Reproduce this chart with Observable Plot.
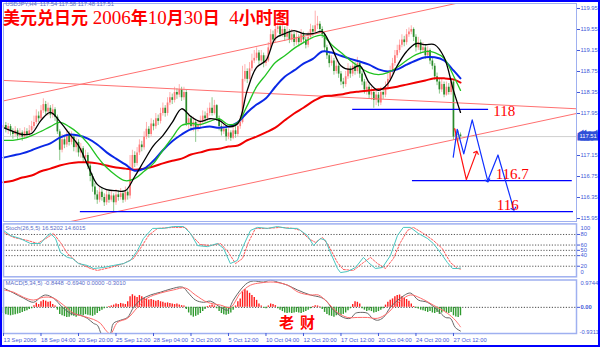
<!DOCTYPE html>
<html><head><meta charset="utf-8">
<script src="https://cdn.jsdelivr.net/npm/d3@7"></script>
<script src="https://cdn.jsdelivr.net/npm/@observablehq/plot@0.6"></script>
<style>
body{margin:0;background:#fff;}
#c{position:relative;width:600px;height:347px;overflow:hidden;background:#fff;}
#c svg{position:absolute;left:0;top:0;}
#border{position:absolute;left:0;top:0;width:600px;height:347px;box-sizing:border-box;border:2px solid #0000ff;pointer-events:none;}
#title{position:absolute;left:3px;top:8.5px;white-space:nowrap;color:#ff0000;font-weight:700;line-height:15px;}
#title .h{font-family:"Noto Sans CJK SC",sans-serif;font-size:17px;}
#title .d{font-family:"Liberation Serif",serif;font-size:19px;font-weight:400;}
#sig{position:absolute;left:279px;top:313px;white-space:nowrap;color:#ff0000;font-family:"Noto Sans CJK SC",sans-serif;font-size:15px;line-height:18px;font-weight:700;letter-spacing:6px;}
</style></head><body><div id="c"></div>
<script>
// ---------- data ----------
const firstOpen = 117.68;
const closes = [
117.72,117.65,117.70,117.60,117.55,117.62,117.52,117.58,117.50,117.60,
117.55,117.62,117.70,117.78,117.90,117.85,118.00,118.12,117.98,118.05,
117.92,118.02,117.88,117.60,117.25,117.45,117.35,117.55,117.40,117.50,
117.30,117.40,117.20,117.28,117.10,117.15,116.95,116.75,116.55,116.40,
116.30,116.45,116.35,116.25,116.40,116.30,116.38,116.25,116.40,116.35,
116.42,116.30,116.45,116.38,116.90,117.15,117.00,117.20,117.35,117.30,
117.50,117.65,117.55,117.75,117.70,117.85,117.80,117.95,118.05,117.95,
118.15,118.25,118.20,118.35,118.30,118.40,118.25,118.35,117.75,117.85,
117.70,117.78,117.65,117.72,117.80,117.90,117.85,117.95,118.05,117.95,
118.10,117.85,117.70,117.60,117.65,117.50,117.58,117.48,117.62,117.55,
117.70,117.78,118.60,118.75,118.60,118.80,118.95,119.00,119.10,118.95,
119.05,118.90,118.95,119.20,119.45,119.35,119.55,119.60,119.45,119.55,
119.40,119.50,119.35,119.45,119.30,119.40,119.30,119.45,119.35,119.25,
119.40,119.55,119.50,119.62,119.65,119.55,119.45,119.20,119.05,118.90,
118.95,118.75,118.85,118.70,118.55,118.50,118.65,118.80,118.70,118.85,
118.75,118.90,118.70,118.55,118.40,118.45,118.30,118.35,118.20,118.30,
118.15,118.35,118.30,118.45,118.60,118.75,118.90,119.05,119.15,119.25,
119.35,119.30,119.45,119.50,119.55,119.40,119.20,119.30,119.15,119.20,
119.05,119.15,118.95,118.85,118.65,118.55,118.40,118.50,118.30,118.45,
118.35,118.55,117.50,117.55,117.54,117.51];
const highs = [
117.80,117.78,117.76,117.74,117.66,117.70,117.66,117.66,117.62,117.68,
117.66,117.72,117.80,117.90,118.02,117.98,118.10,118.23,118.18,118.15,
118.10,118.12,118.06,117.92,117.64,117.55,117.52,117.65,117.60,117.60,
117.55,117.48,117.45,117.38,117.32,117.25,117.20,117.00,116.80,116.62,
116.48,116.55,116.52,116.42,116.50,116.46,116.48,116.42,116.50,116.48,
116.52,116.48,116.55,116.50,117.15,117.25,117.22,117.30,117.45,117.42,
117.60,117.78,117.70,117.85,117.82,117.95,117.92,118.05,118.15,118.10,
118.25,118.35,118.32,118.45,118.42,118.50,118.45,118.45,118.40,117.95,
117.90,117.88,117.82,117.82,117.90,118.00,117.98,118.05,118.15,118.25,
118.20,118.12,117.90,117.75,117.75,117.70,117.66,117.62,117.72,117.70,
117.80,117.90,118.85,118.88,118.80,118.92,119.08,119.15,119.20,119.15,
119.15,119.10,119.05,119.30,119.55,119.52,119.65,119.72,119.65,119.65,
119.60,119.60,119.55,119.55,119.50,119.50,119.45,119.55,119.50,119.40,
119.50,119.65,119.62,119.90,119.80,119.70,119.60,119.50,119.25,119.10,
119.05,119.00,118.95,118.90,118.75,118.62,118.75,118.90,118.85,118.95,
118.92,119.02,118.95,118.75,118.60,118.55,118.50,118.45,118.40,118.40,
118.35,118.45,118.42,118.55,118.70,118.85,119.00,119.15,119.25,119.35,
119.45,119.42,119.55,119.58,119.62,119.58,119.45,119.40,119.35,119.30,
119.25,119.22,119.18,119.00,118.90,118.72,118.60,118.60,118.55,118.55,
118.52,118.62,118.58,117.65,117.62,117.58];
const lows = [
117.60,117.58,117.55,117.52,117.46,117.50,117.45,117.48,117.42,117.46,
117.48,117.50,117.58,117.65,117.74,117.78,117.80,117.95,117.92,117.90,
117.85,117.86,117.80,117.55,117.05,117.20,117.28,117.30,117.33,117.35,
117.22,117.20,117.12,117.10,117.00,117.02,116.88,116.65,116.45,116.30,
116.22,116.25,116.28,116.18,116.20,116.24,116.26,116.08,116.20,116.28,
116.30,116.24,116.26,116.30,116.32,116.85,116.92,116.95,117.15,117.22,
117.25,117.45,117.48,117.50,117.62,117.65,117.72,117.75,117.90,117.88,
117.90,118.10,118.12,118.15,118.22,118.25,118.18,118.20,117.70,117.65,
117.62,117.60,117.40,117.60,117.66,117.75,117.78,117.80,117.90,117.90,
117.92,117.80,117.62,117.52,117.55,117.42,117.45,117.42,117.45,117.48,
117.50,117.65,117.75,118.55,118.52,118.55,118.75,118.90,118.95,118.88,
118.90,118.82,118.85,118.92,119.15,119.28,119.30,119.48,119.40,119.40,
119.32,119.35,119.28,119.30,119.22,119.25,119.22,119.25,119.28,119.18,
119.20,119.35,119.42,119.45,119.55,119.48,119.38,119.12,118.98,118.82,
118.85,118.68,118.70,118.62,118.48,118.42,118.45,118.60,118.62,118.65,
118.68,118.70,118.62,118.48,118.32,118.30,118.22,118.20,118.05,118.10,
118.08,118.10,118.22,118.25,118.40,118.55,118.70,118.85,119.00,119.10,
119.20,119.22,119.25,119.40,119.45,119.32,119.12,119.15,119.08,119.10,
118.98,119.00,118.88,118.78,118.58,118.48,118.32,118.35,118.25,118.28,
118.30,118.30,117.44,117.45,117.42,117.48];

// moving averages at these bar indices
const maIdx = [0,4,8,12,16,20,24,28,32,36,40,44,48,52,56,60,64,68,72,76,80,84,88,92,96,100,104,108,112,116,120,124,128,132,136,140,144,148,152,156,160,164,168,172,176,180,184,188,192,195];
const maBlack = [117.68,117.61,117.55,117.57,117.82,117.97,117.80,117.57,117.34,116.96,116.60,116.50,116.48,116.48,116.75,117.05,117.34,117.53,117.78,118.04,117.89,117.80,117.85,117.82,117.70,117.76,118.39,118.83,118.96,119.38,119.47,119.53,119.47,119.47,119.51,119.21,118.86,118.79,118.86,118.54,118.39,118.52,118.86,119.13,119.28,119.26,119.26,119.02,118.39,117.97];
const maGreen = [117.44,117.44,117.47,117.53,117.61,117.70,117.78,117.70,117.57,117.38,117.13,116.92,116.77,116.67,116.71,116.85,117.00,117.25,117.49,117.72,117.76,117.74,117.80,117.85,117.74,117.78,118.10,118.46,118.69,118.92,119.05,119.19,119.30,119.40,119.44,119.26,119.11,118.96,118.83,118.73,118.69,118.73,118.83,118.96,119.07,119.13,119.11,119.00,118.67,118.39];
const maBlue = [117.11,117.15,117.19,117.25,117.32,117.38,117.49,117.55,117.53,117.47,117.36,117.21,117.09,116.98,116.86,116.90,117.05,117.25,117.42,117.55,117.65,117.68,117.70,117.68,117.70,117.78,117.97,118.12,118.24,118.46,118.65,118.77,118.90,118.99,119.13,119.11,119.05,118.99,118.94,118.88,118.79,118.75,118.79,118.88,118.96,119.02,119.02,118.96,118.77,118.62];
const maRed = [116.64,116.67,116.73,116.77,116.85,116.90,116.96,117.00,117.02,117.02,117.00,116.96,116.92,116.90,116.88,116.90,116.94,117.00,117.05,117.09,117.17,117.21,117.26,117.28,117.32,117.34,117.44,117.51,117.59,117.68,117.82,117.95,118.06,118.18,118.27,118.29,118.31,118.35,118.37,118.39,118.41,118.43,118.46,118.50,118.54,118.58,118.62,118.62,118.60,118.54];

// hand-drawn lines: [bar index, price]
const channelUpper = [[0,118.19],[244.5,120.54]];
const channelLower = [[28.9,115.895],[244.5,117.95]];
const fallingLine = [[0,118.58],[244.5,118.04]];
const supportPrice = [118.03, 116.67, 116.08];
const supportFrom = [149, 174.5, 32.8];
const supportTo = [207, 242.7, 243.2];
const levelText = ["118", "116.7", "116"];
const levelIdx = [209, 210, 210.5];
const levelPrice = [118.0, 116.79, 116.21];
const blueZigA = [[191.9,117.12],[193.6,117.65],[196.4,117.18],[200.0,117.83],[206.6,116.67]];
const blueZigB = [[206.6,116.67],[211.0,117.16],[217.7,116.13]];
const redZig = [[192.5,117.66],[197.5,116.69],[201.8,117.21]];

// Stochastic(26,5,5)
const stochMain = [[0,87.7],[3,78],[7,72.5],[11.5,63],[15.8,63],[17.9,74],[20,82],[22.2,72.5],[24.3,46],[27.3,36.6],[29.4,34.7],[32,25],[35.8,21.4],[38.4,15.7],[42.7,17.6],[46.9,21.4],[51.2,25],[54.2,31],[57.2,50],[59.7,72.5],[63.6,91.5],[68.3,91.5],[72.5,95],[76.8,95],[79.8,82],[82.8,59],[87,57],[91.3,63],[93.9,53.6],[96.8,25],[99.8,31],[102.4,59],[105.4,87.7],[108.4,93.4],[112.6,91.5],[116.9,95],[121.2,91.5],[125.4,91.5],[126.7,87.7],[129.7,78],[132.3,59],[135.2,72.5],[137.4,69],[139.5,46],[142.5,15.7],[143.8,8],[146.8,10],[150.2,17.6],[153.6,36.6],[155.7,27],[158.7,15.7],[161.7,17.6],[165.1,40],[168.1,78],[170.6,93.4],[173.6,93.4],[177,82],[180.9,72.5],[183.4,63],[186.4,46],[189.4,27],[191.6,15.7],[193.7,15.7],[195,16.52]];
const stochSignal = [[0,84],[4.3,74.4],[10.2,68.8],[14.5,63],[18.8,74.4],[21.3,82],[24.3,65],[27.3,44],[31.6,27],[37.1,15.7],[40.1,12],[45.6,17.6],[51.2,25],[55.5,34.7],[58.4,53.6],[61.9,78],[65.7,91.5],[72.5,93.4],[77.6,93.4],[81.1,74.4],[84,61],[88.3,59],[92.6,63],[96,46],[99,25],[102,34.7],[104.5,65],[107.5,91.5],[112.6,91.5],[118.2,93.4],[123.7,91.5],[126.7,87.7],[130.1,72.5],[133.1,65],[136.1,74.4],[138.7,59],[142.5,27],[145,13.8],[149.3,12],[153.6,27],[156.6,36.6],[159.6,25],[163,15.7],[166.4,34.7],[169.4,65],[172.4,87.7],[174.9,93.4],[179.2,82],[183.4,68.8],[187.2,53.6],[190.7,27],[193.7,15.7],[195,14.60]];
const stochLevels = [80, 60, 50, 40, 20];

// MACD(5,34,5)
const macdMain = [[0,0.69],[4.3,0.51],[8.5,0.33],[12.8,0.18],[15.8,0.36],[17.9,0.44],[21.3,0.33],[25.2,0],[28.6,-0.21],[32.8,-0.28],[35.8,-0.39],[38.4,-0.57],[40.1,-0.64],[41.8,-0.95],[43.9,-1.1],[45.6,-0.95],[46.9,-0.57],[49.9,-0.46],[52.9,-0.36],[55.5,0],[58.4,0.26],[62.7,0.44],[67,0.54],[71.2,0.65],[76.4,0.72],[78.9,0.51],[81.9,0.26],[85.3,0.18],[88.3,0.22],[92.6,0],[95.6,-0.1],[98.1,0.26],[101.1,0.62],[104.1,0.87],[106.7,0.94],[110.9,0.9],[113.9,0.97],[116.9,0.9],[121.2,0.79],[125.4,0.62],[131,0.44],[135.2,0.36],[137.4,0.26],[140.8,-0.1],[145,-0.36],[148,-0.39],[150.2,-0.21],[152.3,-0.18],[155.3,-0.21],[157.4,-0.39],[159.6,-0.46],[162.1,-0.36],[165.1,0],[169.4,0.33],[173.6,0.51],[177,0.26],[180.9,0.18],[185.2,-0.1],[188.6,-0.36],[190.7,-0.39],[192.8,-0.72],[195,-0.8448]];
const macdSignal = [[0,0.62],[4.3,0.54],[8.5,0.36],[12.8,0.26],[17.1,0.36],[21.3,0.33],[25.6,0.08],[29.9,-0.21],[34.1,-0.32],[38.4,-0.43],[41.4,-0.57],[43.5,-0.8],[45.6,-0.95],[48.6,-0.54],[52.9,-0.39],[57.2,0],[61.4,0.33],[67,0.51],[72.5,0.62],[77.6,0.69],[81.9,0.44],[87,0.18],[92.6,0.08],[96.8,0],[101.1,0.51],[105.4,0.79],[109.6,0.87],[115.2,0.9],[121.2,0.79],[125.8,0.54],[131,0.44],[134.4,0.44],[138.2,0.18],[142.5,-0.18],[146.8,-0.36],[151,-0.36],[155.3,-0.36],[159.6,-0.39],[163.8,-0.21],[168.1,0.15],[173.6,0.44],[177.9,0.33],[183.4,0.08],[189.4,-0.21],[192.8,-0.46],[195,-0.694]];
const macdHist = [
-0.22,-0.26,-0.28,-0.30,-0.28,-0.26,-0.24,-0.22,-0.18,-0.15,-0.12,-0.08,-0.05,
0.06,0.15,0.10,0.20,0.25,0.22,0.18,0.20,0.10,0.05,
-0.10,-0.25,-0.30,-0.33,-0.36,-0.35,-0.30,-0.32,-0.35,-0.30,-0.28,-0.30,-0.26,-0.28,-0.30,-0.32,-0.28,-0.22,-0.15,-0.10,
-0.05,-0.02,0.03,0.05,
0.08,0.12,0.10,0.14,0.12,0.10,
0.20,0.38,0.45,0.40,0.35,0.42,0.38,0.32,
0.30,0.26,0.28,0.25,0.22,0.24,0.20,
0.18,0.15,0.16,0.14,0.12,0.10,0.12,
0.08,0.06,0.05,-0.08,
-0.20,-0.30,-0.35,-0.32,-0.28,-0.22,-0.15,-0.08,
0.03,0.06,0.08,0.05,
-0.05,-0.15,-0.22,-0.26,-0.28,-0.25,-0.20,-0.10,
0.05,0.20,0.30,0.55,0.64,0.58,0.50,0.42,0.35,0.25,
0.12,0.05,-0.03,-0.05,
0.05,0.12,0.10,0.06,
-0.05,-0.10,-0.15,-0.20,-0.22,-0.20,-0.22,-0.20,-0.18,-0.20,-0.22,-0.18,-0.15,-0.10,-0.05,
0.03,0.06,0.05,0.02,
-0.08,-0.18,-0.25,-0.30,-0.32,-0.35,-0.30,-0.28,-0.30,-0.25,-0.20,-0.12,-0.05,
0.10,0.20,0.18,0.12,
-0.05,-0.10,-0.15,-0.12,-0.15,-0.20,-0.18,-0.15,-0.10,-0.05,
0.08,0.18,0.25,0.30,0.38,0.42,0.44,0.38,0.32,0.28,0.22,0.12,
0.03,-0.03,-0.06,
-0.10,-0.12,-0.15,-0.18,-0.15,-0.20,-0.22,-0.18,-0.25,-0.20,-0.15,-0.20,-0.22,-0.18,-0.30,-0.34,-0.36,-0.30];

// axis ticks
const priceTicks = [119.95,119.55,119.15,118.75,118.35,117.95,117.15,116.75,116.35,115.95];
const xTickIdx = [0,16,32,48,64,80,96,112,128,144,160,176,192];
const xTickText = ["13 Sep 2006","18 Sep 04:00","20 Sep 20:00","25 Sep 12:00","28 Sep 04:00","2 Oct 20:00","5 Oct 12:00","10 Oct 04:00","12 Oct 20:00","17 Oct 12:00","20 Oct 04:00","24 Oct 20:00","27 Oct 12:00"];
const headerText = "USDJPY,H4  117.54 117.58 117.48 117.51";
const stochText = "Stoch(26,5,5) 16.5202 14.6015";
const macdText = "MACD(5,34,5) -0.8448 -0.6940 0.0000 -0.3010";
const lastClose = closes[closes.length - 1];

// ---------- drawing ----------
const axisColor = "#3f58d8";
const frameColor = "#9fb0f0";
const smallFont = "Liberation Sans, Arial, sans-serif";
const base = {width: 600, height: 347, marginLeft: 3, marginRight: 24,
  style: {background: "transparent", overflow: "visible", color: axisColor}};
const xDom = [0, 244.5];

const candles = closes.map((c, i) => ({i, o: i ? closes[i-1] : firstOpen, c, h: highs[i], l: lows[i]}));
candles.forEach(d => d.up = d.c >= d.o);
const maRows = (arr) => arr.map((p, k) => ({i: maIdx[k], p}));
const pts = (arr) => arr.map(([i, v]) => ({i, v}));
const supports = supportPrice.map((p, k) => ({p, a: supportFrom[k], b: supportTo[k]}));
const levels = levelText.map((t, k) => ({t, i: levelIdx[k], p: levelPrice[k]}));

const main = Plot.plot({...base, marginTop: 3, marginBottom: 126,
  x: {domain: xDom, axis: null},
  y: {domain: [115.893, 120.045], label: null},
  marks: [
    Plot.ruleY([lastClose], {stroke: "#cfcfcf"}),
    Plot.ruleX(candles, {x: "i", y1: "l", y2: "h", stroke: d => d.up ? "#ffb0b0" : "#8cc88c", strokeWidth: 1}),
    Plot.ruleX(candles, {x: "i", y1: "o", y2: "c", stroke: d => d.up ? "#ff7878" : "#2a8a2a", strokeWidth: 1.7}),
    Plot.line(pts(channelUpper), {x: "i", y: "v", stroke: "#ff7070", strokeWidth: 1, clip: true}),
    Plot.line(pts(channelLower), {x: "i", y: "v", stroke: "#ff7070", strokeWidth: 1, clip: true}),
    Plot.line(pts(fallingLine), {x: "i", y: "v", stroke: "#ff7070", strokeWidth: 1, clip: true}),
    Plot.ruleY(supports, {y: "p", x1: "a", x2: "b", stroke: "#0000ff", strokeWidth: 1.3}),
    Plot.line(maRows(maRed), {x: "i", y: "p", stroke: "#f00000", strokeWidth: 2, curve: "catmull-rom"}),
    Plot.line(maRows(maBlue), {x: "i", y: "p", stroke: "#0a28e6", strokeWidth: 2, curve: "catmull-rom"}),
    Plot.line(maRows(maGreen), {x: "i", y: "p", stroke: "#22c322", strokeWidth: 1.3, curve: "catmull-rom"}),
    Plot.line(maRows(maBlack), {x: "i", y: "p", stroke: "#000000", strokeWidth: 1.3, curve: "catmull-rom"}),
    Plot.line(pts(redZig), {x: "i", y: "v", stroke: "#ff1010", strokeWidth: 1.2, markerEnd: "arrow"}),
    Plot.line(pts(blueZigA), {x: "i", y: "v", stroke: "#1030ff", strokeWidth: 1.2, markerEnd: "arrow"}),
    Plot.line(pts(blueZigB), {x: "i", y: "v", stroke: "#1030ff", strokeWidth: 1.2, markerEnd: "arrow"}),
    Plot.text(levels, {x: "i", y: "p", text: "t", textAnchor: "start", fill: "#ff0000", fontSize: 15, fontFamily: "Liberation Serif, serif"}),
    Plot.frame({stroke: frameColor}),
    Plot.axisY({anchor: "right", ticks: priceTicks, tickFormat: d3.format(".2f"), tickSize: 3, tickPadding: 1,
      fontSize: 5.8, fontFamily: smallFont, color: axisColor, label: null}),
    Plot.text([lastClose], {y: d => d, text: d => d.toFixed(2), frameAnchor: "right", textAnchor: "start", dx: 3,
      fontSize: 5.8, fontFamily: smallFont, fill: "#ffffff", stroke: "#2f4fd8", strokeWidth: 5, paintOrder: "stroke", strokeLinejoin: "miter"}),
    Plot.text([headerText], {frameAnchor: "top-left", dx: 2, dy: -1.5, fontSize: 5.8, fontFamily: smallFont, fill: "#5a6cc8"})
  ]});

const stoch = Plot.plot({...base, marginTop: 223.4, marginBottom: 70.7,
  x: {domain: xDom, axis: null},
  y: {domain: [0, 100], label: null},
  marks: [
    Plot.ruleY(stochLevels, {stroke: "#444", strokeDasharray: "1.2,1.6", strokeWidth: 0.9}),
    Plot.line(pts(stochSignal), {x: "i", y: "v", stroke: "#ff5a5a", strokeWidth: 1, strokeDasharray: "2,1.5"}),
    Plot.line(pts(stochMain), {x: "i", y: "v", stroke: "#49c6c0", strokeWidth: 1}),
    Plot.frame({stroke: frameColor, strokeWidth: 1.5}),
    Plot.axisY({anchor: "right", ticks: stochLevels, tickSize: 3, tickPadding: 1, fontSize: 5.8, fontFamily: smallFont, color: axisColor, label: null}),
    Plot.text([100], {y: d => d, text: d => String(d), frameAnchor: "right", textAnchor: "start", dx: 4, dy: 4, fontSize: 5.8, fontFamily: smallFont, fill: axisColor}),
    Plot.text([0], {y: d => d, text: d => String(d), frameAnchor: "right", textAnchor: "start", dx: 4, dy: -5, fontSize: 5.8, fontFamily: smallFont, fill: axisColor}),
    Plot.text([stochText], {frameAnchor: "top-left", dx: 2, dy: 2, fontSize: 5.8, fontFamily: smallFont, fill: "#5a6cc8"})
  ]});

const hist = macdHist.map((v, i) => ({i, v}));
const macd = Plot.plot({...base, marginTop: 279.5, marginBottom: 14,
  x: {domain: xDom},
  y: {domain: [-0.9311, 0.9744], label: null},
  marks: [
    Plot.ruleY([0], {stroke: "#333", strokeDasharray: "1.2,1.6", strokeWidth: 0.9}),
    Plot.ruleX(hist, {x: "i", y1: 0, y2: "v", stroke: d => d.v >= 0 ? "#ff1a1a" : "#2f9a2f", strokeWidth: 1.4}),
    Plot.line(pts(macdMain), {x: "i", y: "v", stroke: "#666666", strokeWidth: 1, curve: "catmull-rom", clip: true}),
    Plot.line(pts(macdSignal), {x: "i", y: "v", stroke: "#ff6a6a", strokeWidth: 1, curve: "catmull-rom", clip: true}),
    Plot.frame({stroke: frameColor, strokeWidth: 1.5}),
    Plot.axisY({anchor: "right", ticks: [0], tickFormat: d3.format(".2f"), tickSize: 3, tickPadding: 1, fontSize: 5.8, fontWeight: "bold", fontFamily: smallFont, color: axisColor, label: null}),
    Plot.text([0.9744], {y: d => d, text: d => d.toFixed(4), frameAnchor: "right", textAnchor: "start", dx: 4, dy: 3, fontSize: 5.8, fontFamily: smallFont, fill: axisColor}),
    Plot.text([-0.9311], {y: d => d, text: d => d.toFixed(4), frameAnchor: "right", textAnchor: "start", dx: 3, dy: -1, fontSize: 5.8, fontFamily: smallFont, fill: axisColor}),
    Plot.axisX({anchor: "bottom", ticks: xTickIdx, tickFormat: (d) => xTickText[xTickIdx.indexOf(d)], tickSize: 3, tickPadding: 1,
      textAnchor: "start", fontSize: 5.8, fontFamily: smallFont, color: axisColor, label: null}),
    Plot.text([macdText], {frameAnchor: "top-left", dx: 2, dy: 1, fontSize: 5.8, fontFamily: smallFont, fill: "#5a6cc8"})
  ]});

const c = document.getElementById("c");
c.append(main, stoch, macd);

const title = document.createElement("div");
title.id = "title";
title.innerHTML = '<span class="h">美元兑日元</span><span class="d"> 2006</span><span class="h">年</span><span class="d">10</span><span class="h">月</span><span class="d">30</span><span class="h">日</span><span class="d"> &nbsp;4</span><span class="h">小时图</span>';
c.append(title);
const sig = document.createElement("div");
sig.id = "sig";
sig.textContent = "老财";
c.append(sig);
const border = document.createElement("div");
border.id = "border";
c.append(border);
</script></body></html>
